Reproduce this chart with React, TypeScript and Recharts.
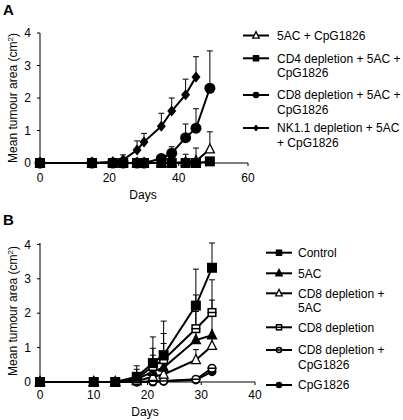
import React from 'react';
import { LineChart, Line, XAxis, YAxis, ErrorBar } from 'recharts';

const FONT = '"Liberation Sans", Arial, Helvetica, sans-serif';

// ---------- Panel A ----------
const daysA = [0, 15, 21, 24, 28, 30, 35, 38, 42, 45, 49];
const aTri = [0, 0, 0, 0, 0, 0, 0, 0, 0.03, 0.06, 0.42];
const aTriErr = [0, 0, 0, 0, 0, 0, 0, 0, 0.24, 0.4, 0.54];
const aSq = [0, 0, 0, 0, 0, 0, 0, 0, 0, 0, 0.05];
const aSqErr = [0, 0, 0, 0, 0, 0, 0, 0, 0, 0, 0];
const aCirc = [0, 0, 0, 0, 0, 0, 0.14, 0.3, 0.78, 1.07, 2.3];
const aCircErr = [0, 0, 0, 0, 0, 0, 0.1, 0.2, 0.42, 0.6, 1.15];
const aDia = [0, 0, 0.04, 0.1, 0.4, 0.65, 1.13, 1.6, 2.1, 2.65, null];
const aDiaErr = [0, 0, 0.05, 0.15, 0.28, 0.26, 0.4, 0.4, 0.48, 0.62, null];
const ticksAX = [0, 20, 40, 60];
const ticksY = [0, 1, 2, 3, 4];
const legendA = [
  ['5AC + CpG1826'],
  ['CD4 depletion + 5AC +', 'CpG1826'],
  ['CD8 depletion + 5AC +', 'CpG1826'],
  ['NK1.1 depletion + 5AC', '+ CpG1826'],
];

// ---------- Panel B ----------
const daysB = [0, 10, 14, 18, 21, 23, 29, 32];
const bControl = [0, 0, 0, 0.15, 0.55, 0.78, 2.22, 3.32];
const bControlErr = [0, 0, 0, 0.32, 0.76, 0.99, 1.06, 0.72];
const b5AC = [0, 0, 0, 0.08, 0.3, 0.42, 1.22, 1.36];
const b5ACErr = [0, 0, 0, 0.1, 0.48, 0.7, 0.83, 1.02];
const bCD8_5AC = [0, 0, 0, 0.03, 0.15, 0.22, 0.64, 1.05];
const bCD8_5ACErr = [0, 0, 0, 0, 0.1, 0.15, 0.3, 0.3];
const bCD8 = [0, 0, 0, 0.1, 0.45, 0.65, 1.55, 2.02];
const bCD8Err = [0, 0, 0, 0.27, 0.53, 0.76, 0.98, 0.95];
const bCD8Cpg = [0, 0, 0, 0, 0.02, 0.03, 0.08, 0.4];
const bCD8CpgErr = [0, 0, 0, 0, 0.03, 0.03, 0.05, 0.05];
const bCpg = [0, 0, 0, 0, 0, 0.02, 0.06, 0.3];
const bCpgErr = [0, 0, 0, 0, 0, 0, 0, 0];
const ticksBX = [0, 10, 20, 30, 40];
const legendB = [
  ['Control'],
  ['5AC'],
  ['CD8 depletion +', '5AC'],
  ['CD8 depletion'],
  ['CD8 depletion +', 'CpG1826'],
  ['CpG1826'],
];

const err = (v: number | null, e: number | null) => (v == null || e == null ? undefined : [0, e]);

const dataA = daysA.map((d, i) => ({
  day: d,
  tri: aTri[i], triErr: err(aTri[i], aTriErr[i]),
  sq: aSq[i], sqErr: err(aSq[i], aSqErr[i]),
  circ: aCirc[i], circErr: err(aCirc[i], aCircErr[i]),
  dia: aDia[i], diaErr: err(aDia[i], aDiaErr[i]),
}));

const dataB = daysB.map((d, i) => ({
  day: d,
  control: bControl[i], controlErr: err(bControl[i], bControlErr[i]),
  ac: b5AC[i], acErr: err(b5AC[i], b5ACErr[i]),
  cd8ac: bCD8_5AC[i], cd8acErr: err(bCD8_5AC[i], bCD8_5ACErr[i]),
  cd8: bCD8[i], cd8Err: err(bCD8[i], bCD8Err[i]),
  cd8cpg: bCD8Cpg[i], cd8cpgErr: err(bCD8Cpg[i], bCD8CpgErr[i]),
  cpg: bCpg[i], cpgErr: err(bCpg[i], bCpgErr[i]),
}));

type Shape = 'square' | 'circle' | 'diamond' | 'triOpen' | 'triFilled' | 'squareOpen' | 'circleOpen';

function markerEl(shape: Shape, cx: number, cy: number, s: number, k?: string) {
  const h = s / 2;
  switch (shape) {
    case 'square':
      return <rect key={k} x={cx - h} y={cy - h} width={s} height={s} fill="#000" />;
    case 'circle':
      return <circle key={k} cx={cx} cy={cy} r={h} fill="#000" />;
    case 'diamond':
      return <polygon key={k} points={`${cx},${cy - h * 1.1} ${cx + h * 0.9},${cy} ${cx},${cy + h * 1.1} ${cx - h * 0.9},${cy}`} fill="#000" />;
    case 'triOpen':
    case 'triFilled':
      return (
        <polygon
          key={k}
          points={`${cx},${cy - s * 0.6} ${cx + h},${cy + s * 0.4} ${cx - h},${cy + s * 0.4}`}
          fill={shape === 'triOpen' ? '#fff' : '#000'}
          stroke="#000"
          strokeWidth={1.3}
        />
      );
    case 'squareOpen':
      return (
        <g key={k}>
          <rect x={cx - h + 0.7} y={cy - h + 0.7} width={s - 1.4} height={s - 1.4} fill="#fff" stroke="#000" strokeWidth={1.5} />
          <line x1={cx - h} x2={cx + h} y1={cy} y2={cy} stroke="#000" strokeWidth={1.5} />
        </g>
      );
    case 'circleOpen':
      return (
        <g key={k}>
          <circle cx={cx} cy={cy} r={h - 0.7} fill="#fff" stroke="#000" strokeWidth={1.5} />
          <line x1={cx - h} x2={cx + h} y1={cy} y2={cy} stroke="#000" strokeWidth={1.5} />
        </g>
      );
  }
  return null;
}

const dot = (shape: Shape, s: number) => (p: any) => {
  const k = `dot-${shape}-${p.index}`;
  if (p.cx == null || p.cy == null || Number.isNaN(p.cy) || p.value == null) return <g key={k} />;
  return markerEl(shape, p.cx, p.cy, s, k);
};

const tickStyle = { fill: '#000', fontSize: 12, fontFamily: FONT };

function LegendRow({ x, y, shape, lines, textX }: { x: number; y: number; shape: Shape; lines: string[]; textX: number }) {
  return (
    <g>
      <line x1={x} x2={x + 26} y1={y} y2={y} stroke="#000" strokeWidth={2} />
      {markerEl(shape, x + 13, y, 6.5)}
      <text x={textX} y={y + 4.3} fontSize={12} fontFamily={FONT} fill="#000">
        {lines.map((l, i) => (
          <tspan key={i} x={textX} dy={i === 0 ? 0 : 14.5}>
            {l}
          </tspan>
        ))}
      </text>
    </g>
  );
}

const shapesA: Shape[] = ['triOpen', 'square', 'circle', 'diamond'];
const rowsA = [35.5, 58.3, 95, 128];
const shapesB: Shape[] = ['square', 'triFilled', 'triOpen', 'squareOpen', 'circleOpen', 'circle'];
const rowsB = [252.7, 273.3, 293.3, 327.3, 350, 385];

export default function App() {
  return (
    <div style={{ position: 'absolute', left: 0, top: 0, width: 403, height: 420, background: '#fff', fontFamily: FONT }}>
      <div style={{ position: 'absolute', left: 0, top: 0 }}>
        <LineChart width={403} height={210} data={dataA} margin={{ top: 33, right: 155, bottom: 17, left: 0 }}>
          <XAxis
            type="number"
            dataKey="day"
            domain={[0, 60]}
            ticks={ticksAX}
            interval={0}
            height={30}
            tickSize={3}
            tickMargin={7}
            stroke="#000"
            tick={tickStyle}
          />
          <YAxis
            type="number"
            domain={[0, 4]}
            ticks={ticksY}
            interval={0}
            width={40}
            tickSize={3}
            tickMargin={6}
            stroke="#000"
            tick={tickStyle}
          />
          <Line dataKey="tri" stroke="#000" strokeWidth={2} isAnimationActive={false} dot={dot('triOpen', 9)}>
            <ErrorBar dataKey="triErr" direction="y" width={3} stroke="#000" strokeWidth={1} />
          </Line>
          <Line dataKey="circ" stroke="#000" strokeWidth={2} isAnimationActive={false} dot={dot('circle', 11)}>
            <ErrorBar dataKey="circErr" direction="y" width={3} stroke="#000" strokeWidth={1} />
          </Line>
          <Line dataKey="dia" stroke="#000" strokeWidth={2} isAnimationActive={false} dot={dot('diamond', 10)}>
            <ErrorBar dataKey="diaErr" direction="y" width={3} stroke="#000" strokeWidth={1} />
          </Line>
          <Line dataKey="sq" stroke="#000" strokeWidth={2} isAnimationActive={false} dot={dot('square', 10)}>
            <ErrorBar dataKey="sqErr" direction="y" width={3} stroke="#000" strokeWidth={1} />
          </Line>
        </LineChart>
      </div>
      <div style={{ position: 'absolute', left: 0, top: 210 }}>
        <LineChart width={403} height={210} data={dataB} margin={{ top: 33, right: 148, bottom: 8, left: 0 }}>
          <XAxis
            type="number"
            dataKey="day"
            domain={[0, 40]}
            ticks={ticksBX}
            interval={0}
            height={30}
            tickSize={3}
            tickMargin={5}
            stroke="#000"
            tick={tickStyle}
          />
          <YAxis
            type="number"
            domain={[0, 4]}
            ticks={ticksY}
            interval={0}
            width={40}
            tickSize={3}
            tickMargin={6}
            stroke="#000"
            tick={tickStyle}
          />
          <Line dataKey="cpg" stroke="#000" strokeWidth={2} isAnimationActive={false} dot={dot('circle', 9)}>
            <ErrorBar dataKey="cpgErr" direction="y" width={3} stroke="#000" strokeWidth={1} />
          </Line>
          <Line dataKey="cd8cpg" stroke="#000" strokeWidth={2} isAnimationActive={false} dot={dot('circleOpen', 9)}>
            <ErrorBar dataKey="cd8cpgErr" direction="y" width={3} stroke="#000" strokeWidth={1} />
          </Line>
          <Line dataKey="cd8ac" stroke="#000" strokeWidth={2} isAnimationActive={false} dot={dot('triOpen', 9)}>
            <ErrorBar dataKey="cd8acErr" direction="y" width={3} stroke="#000" strokeWidth={1} />
          </Line>
          <Line dataKey="ac" stroke="#000" strokeWidth={2} isAnimationActive={false} dot={dot('triFilled', 9)}>
            <ErrorBar dataKey="acErr" direction="y" width={3} stroke="#000" strokeWidth={1} />
          </Line>
          <Line dataKey="cd8" stroke="#000" strokeWidth={2} isAnimationActive={false} dot={dot('squareOpen', 9)}>
            <ErrorBar dataKey="cd8Err" direction="y" width={3} stroke="#000" strokeWidth={1} />
          </Line>
          <Line dataKey="control" stroke="#000" strokeWidth={2} isAnimationActive={false} dot={dot('square', 10)}>
            <ErrorBar dataKey="controlErr" direction="y" width={3} stroke="#000" strokeWidth={1} />
          </Line>
        </LineChart>
      </div>
      <svg width={403} height={420} style={{ position: 'absolute', left: 0, top: 0, pointerEvents: 'none' }}>
        <text x={3} y={15} fontSize={15} fontWeight="bold" fontFamily={FONT} fill="#000">A</text>
        <text x={3} y={225} fontSize={15} fontWeight="bold" fontFamily={FONT} fill="#000">B</text>
        <text x={17} y={98} transform="rotate(-90 17 98)" textAnchor="middle" fontSize={12} fontFamily={FONT} fill="#000">
          Mean tumour area (cm<tspan dy={-4} fontSize={8}>2</tspan><tspan dy={4}>)</tspan>
        </text>
        <text x={17} y={311} transform="rotate(-90 17 311)" textAnchor="middle" fontSize={12} fontFamily={FONT} fill="#000">
          Mean tumour area (cm<tspan dy={-4} fontSize={8}>2</tspan><tspan dy={4}>)</tspan>
        </text>
        <text x={143} y={199} textAnchor="middle" fontSize={12} fontFamily={FONT} fill="#000">Days</text>
        <text x={145} y={416} textAnchor="middle" fontSize={12} fontFamily={FONT} fill="#000">Days</text>
        {legendA.map((lines, i) => (
          <LegendRow key={`la${i}`} x={243} y={rowsA[i]} shape={shapesA[i]} lines={lines} textX={277} />
        ))}
        {legendB.map((lines, i) => (
          <LegendRow key={`lb${i}`} x={266} y={rowsB[i]} shape={shapesB[i]} lines={lines} textX={298} />
        ))}
      </svg>
    </div>
  );
}
